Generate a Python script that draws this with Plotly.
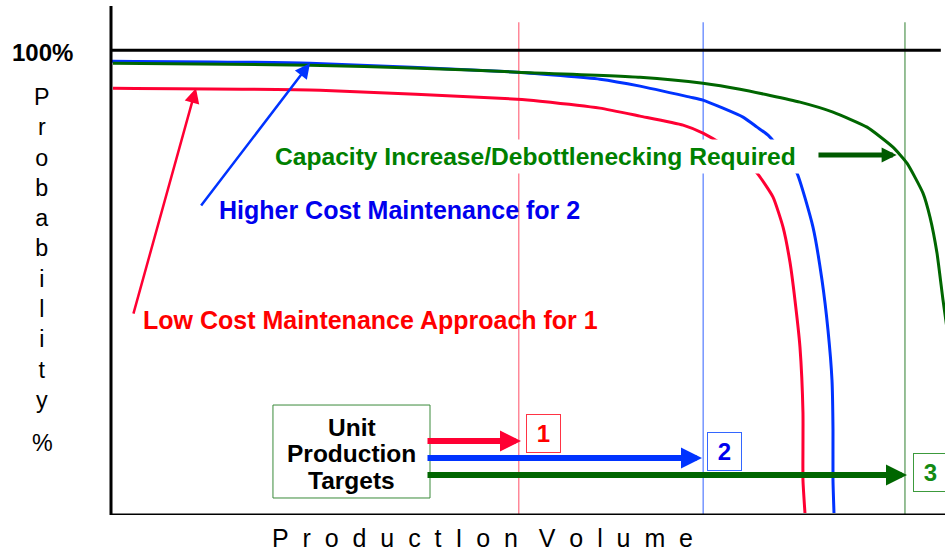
import plotly.graph_objects as go

# ---- data (production volume 0..100, probability %) ----
volume_red = [0.24, 25.06, 48.68, 51.44, 58.63, 63.43, 68.59, 70.98, 74.46, 77.46,
              79.38, 80.58, 81.41, 82.01, 82.61, 82.97, 82.97, 83.21]
prob_red = [91.83, 91.40, 89.46, 89.03, 87.53, 85.81, 83.87, 82.15, 78.49, 73.55,
            68.39, 61.94, 54.41, 46.24, 36.13, 21.94, 7.53, 0.43]

volume_blue = [0.12, 23.86, 48.68, 58.63, 63.43, 69.42, 70.98, 75.78, 77.46, 78.78,
               80.58, 82.25, 84.17, 85.25, 85.97, 86.45, 86.57, 86.57, 86.69]
prob_blue = [97.63, 97.20, 95.27, 93.76, 92.26, 89.89, 89.25, 85.59, 83.44, 81.72,
             77.85, 73.55, 61.94, 50.54, 39.78, 29.03, 18.28, 7.53, 0.43]

volume_green = [0.24, 23.86, 37.05, 48.80, 63.43, 70.98, 75.42, 82.61, 86.57, 90.65,
                93.76, 95.44, 97.36, 98.20, 99.04, 99.76, 100.6]
prob_green = [97.20, 96.77, 96.13, 95.27, 94.19, 92.90, 91.61, 88.82, 86.67, 83.44,
              79.14, 75.70, 69.25, 64.09, 56.34, 46.24, 35.48]

target_labels = ["1", "2", "3"]
target_volume = [48.9, 71.0, 95.2]
target_arrow_y = [15.91, 12.26, 8.60]
target_arrow_tip = [49.16, 70.86, 95.44]
target_label_x = [51.86, 73.56, 98.26]
target_label_y = [17.53, 13.76, 9.14]
box_lines = ["Unit", "Production", "Targets"]
box_line_y = [18.92, 13.33, 7.53]

RED, BLUE, GREEN = "#ff0033", "#0033ff", "#006600"
FONT = "Liberation Sans, Arial, sans-serif"

fig = go.Figure()
for xs, ys, c in [(volume_red, prob_red, RED), (volume_blue, prob_blue, BLUE),
                  (volume_green, prob_green, GREEN)]:
    fig.add_trace(go.Scatter(x=xs, y=ys, mode="lines",
                             line=dict(color=c, width=3, shape="spline", smoothing=0.5),
                             hoverinfo="skip"))

shapes = []
# axes frame
shapes.append(dict(type="line", xref="paper", yref="paper", x0=0, x1=0, y0=0, y1=1,
                   line=dict(color="black", width=3)))
shapes.append(dict(type="line", xref="paper", yref="y", x0=0, x1=1, y0=0, y1=0,
                   line=dict(color="black", width=3)))
shapes.append(dict(type="line", xref="x", yref="y", x0=0, x1=99.5, y0=100, y1=100,
                   line=dict(color="black", width=3)))
# target verticals
vcols = ["#ff4d66", "#3060ff", "#2f7f2f"]
for tv, c in zip(target_volume, vcols):
    shapes.append(dict(type="line", xref="x", yref="y", x0=tv, x1=tv, y0=0, y1=106,
                       line=dict(color=c, width=1), layer="below"))
# unit production targets box
shapes.append(dict(type="rect", xref="x", yref="y", x0=19.42, x1=38.25, y0=3.66, y1=23.66,
                   line=dict(color="#3a8a3a", width=1), fillcolor="white"))

ann = []
C = dict(xanchor="center", yanchor="middle")
# y label (paper coords, left of the plot)
ann.append(dict(x=-0.0827, y=0.9096, xref="paper", yref="paper", text="<b>100%</b>",
                showarrow=False, font=dict(size=24, color="black", family=FONT), **C))
ann.append(dict(x=-0.0827, y=0.5236, xref="paper", yref="paper",
                text="<br>".join(list("Probability")), showarrow=False,
                font=dict(size=23.3, color="black", family=FONT), **C))
ann.append(dict(x=-0.0827, y=0.1415, xref="paper", yref="paper", text="%", showarrow=False,
                font=dict(size=23.3, color="black", family=FONT), **C))
# x label
nb = "\u00a0\u00a0"
xlab = nb.join(list("ProductIon")) + "\u00a0\u00a0\u00a0" + nb.join(list("Volume"))
ann.append(dict(x=0.446, y=-0.0452, xref="paper", yref="paper", text=xlab, showarrow=False,
                font=dict(size=25, color="black", family=FONT), **C))

# curve labels
ann.append(dict(x=50.9, y=77.2, xref="x", yref="y",
                text="<b>Capacity Increase/Debottlenecking Required</b>", showarrow=False,
                bgcolor="white", borderpad=3,
                font=dict(size=24.6, color="#008000", family=FONT), **C))
ann.append(dict(x=34.65, y=65.59, xref="x", yref="y",
                text="<b>Higher Cost Maintenance for 2</b>", showarrow=False,
                font=dict(size=25, color="#0000ee", family=FONT), **C))
ann.append(dict(x=31.12, y=41.94, xref="x", yref="y",
                text="<b>Low Cost Maintenance Approach for 1</b>", showarrow=False,
                font=dict(size=25, color="#ff0000", family=FONT), **C))

# pointer arrows
ann.append(dict(x=10.19, y=91.83, ax=2.64, ay=43.01, xref="x", yref="y", axref="x", ayref="y",
                text="", showarrow=True, arrowhead=2, arrowwidth=2.5, arrowsize=1.2,
                arrowcolor=RED, standoff=0))
ann.append(dict(x=23.86, y=97.2, ax=10.67, ay=66.24, xref="x", yref="y", axref="x", ayref="y",
                text="", showarrow=True, arrowhead=2, arrowwidth=2.5, arrowsize=1.2,
                arrowcolor=BLUE, standoff=0))
ann.append(dict(x=94.2, y=77.42, ax=84.65, ay=77.42, xref="x", yref="y", axref="x", ayref="y",
                text="", showarrow=True, arrowhead=2, arrowwidth=5, arrowsize=0.6,
                arrowcolor="#005a00", standoff=0))

# unit production target text
for t, yy in zip(box_lines, box_line_y):
    ann.append(dict(x=28.84, y=yy, xref="x", yref="y", text="<b>%s</b>" % t, showarrow=False,
                    font=dict(size=24.5, color="black", family=FONT), **C))

# target arrows and labels
acols = [RED, BLUE, GREEN]
tcols = ["#ff0000", "#0000ee", "#138a13"]
bcols = ["#ff3344", "#3366ff", "#3c9a3c"]
for i in range(3):
    ann.append(dict(x=target_arrow_tip[i], y=target_arrow_y[i], ax=37.77, ay=target_arrow_y[i],
                    xref="x", yref="y", axref="x", ayref="y", text="", showarrow=True,
                    arrowhead=2, arrowwidth=6, arrowsize=0.7, arrowcolor=acols[i], standoff=0))
    ann.append(dict(x=target_label_x[i], y=target_label_y[i], xref="x", yref="y",
                    text="<b>%s</b>" % target_labels[i], showarrow=False,
                    width=31, height=35, borderpad=1, borderwidth=1, bordercolor=bcols[i],
                    bgcolor="white", font=dict(size=24, color=tcols[i], family=FONT), **C))

fig.update_layout(
    width=945, height=552,
    margin=dict(l=111, r=0, t=6, b=37),
    paper_bgcolor="white", plot_bgcolor="white",
    showlegend=False,
    xaxis=dict(range=[0, 100], visible=False, fixedrange=True),
    yaxis=dict(range=[0, 109.5], visible=False, fixedrange=True),
    shapes=shapes, annotations=ann,
    font=dict(family=FONT),
)
fig.write_html("out.html", config={"displayModeBar": False})
